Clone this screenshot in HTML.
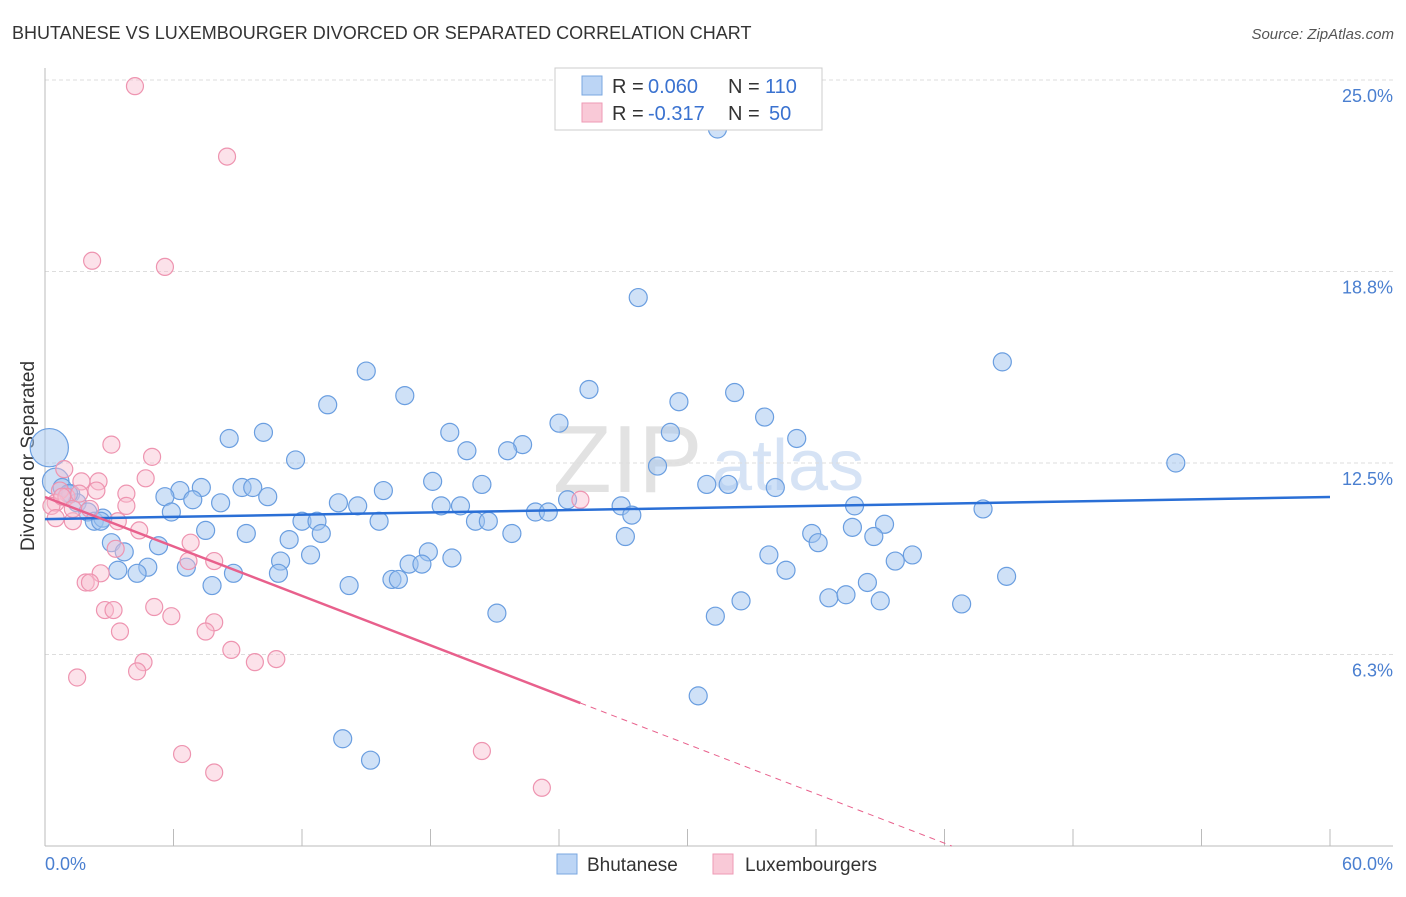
<!DOCTYPE html>
<html><head><meta charset="utf-8"><style>
body{margin:0;background:#fff;font-family:"Liberation Sans",sans-serif;}
svg text{font-family:"Liberation Sans",sans-serif;}
</style></head><body>
<svg id="chart" width="1406" height="892" viewBox="0 0 1406 892" xmlns="http://www.w3.org/2000/svg">
<text x="12" y="39" font-size="18" fill="#333">BHUTANESE VS LUXEMBOURGER DIVORCED OR SEPARATED CORRELATION CHART</text>
<text x="1394" y="39" font-size="15" fill="#555" font-style="italic" text-anchor="end">Source: ZipAtlas.com</text>
<text transform="translate(34,456) rotate(-90)" font-size="19" fill="#333" text-anchor="middle">Divorced or Separated</text>
<g><text x="553" y="492" font-size="96" font-family="Liberation Serif" fill="#e2e2e2">ZIP</text><text x="712" y="490" font-size="72" fill="#d6e3f5">atlas</text></g>
<g id="grid"></g><g id="axes"></g><g id="pts"></g><g id="trend"></g>
<g>
<rect x="555" y="68" width="267" height="62" fill="#fff" stroke="#ccc"/>
<rect x="582" y="76" width="20" height="19" fill="#bcd5f5" stroke="#7aa7e0"/>
<text x="612" y="93" font-size="20" fill="#333">R =</text>
<text x="648" y="93" font-size="20" fill="#3a72d0">0.060</text>
<text x="728" y="93" font-size="20" fill="#333">N =</text>
<text x="765" y="93" font-size="20" fill="#3a72d0">110</text>
<rect x="582" y="103" width="20" height="19" fill="#f9c9d7" stroke="#ee9ab4"/>
<text x="612" y="120" font-size="20" fill="#333">R =</text>
<text x="648" y="120" font-size="20" fill="#3a72d0">-0.317</text>
<text x="728" y="120" font-size="20" fill="#333">N =</text>
<text x="769" y="120" font-size="20" fill="#3a72d0">50</text>
</g>
<g>
<rect x="557" y="854" width="20" height="20" fill="#bcd5f5" stroke="#7aa7e0"/>
<text x="587" y="871" font-size="19" fill="#333">Bhutanese</text>
<rect x="713" y="854" width="20" height="20" fill="#f9c9d7" stroke="#ee9ab4"/>
<text x="745" y="871" font-size="19" fill="#333">Luxembourgers</text>
</g>
</svg>
<script>
const yTicks=[6.25,12.5,18.75,25];
const yTickLabels=["6.3%","12.5%","18.8%","25.0%"];
const xTicks=[0,6,12,18,24,30,36,42,48,54,60];
const blueX=[31.4,27.7,44.7,15.0,25.4,16.8,32.2,13.2,29.6,33.6,24.0,18.9,29.2,10.2,8.6,22.3,35.1,19.7,21.6,11.7,28.6,52.8,18.1,20.4,30.9,31.9,34.1,9.2,9.7,7.3,6.3,5.6,15.8,10.4,6.9,8.2,13.7,14.6,18.5,19.4,24.4,26.9,37.8,5.9,22.9,23.5,27.4,43.8,12.0,12.7,15.6,20.1,20.7,37.7,39.2,7.5,9.4,12.9,21.8,35.8,38.7,27.1,36.1,11.4,3.1,5.3,3.7,11.0,12.4,17.9,19.0,33.8,40.5,39.7,17.0,17.6,6.6,4.8,3.4,4.3,10.9,8.8,34.6,44.9,16.2,16.5,38.4,7.8,14.2,32.5,36.6,37.4,39.0,42.8,21.1,31.3,30.5,13.9,15.2,0.2,0.5,0.8,1.2,1.5,2.0,2.3,2.7,1.1,2.6];
const blueY=[23.4,17.9,15.8,15.5,14.9,14.7,14.8,14.4,14.5,14.0,13.8,13.5,13.5,13.5,13.3,13.1,13.3,12.9,12.9,12.6,12.4,12.5,11.9,11.8,11.8,11.8,11.7,11.7,11.7,11.7,11.6,11.4,11.6,11.4,11.3,11.2,11.2,11.1,11.1,11.1,11.3,11.1,11.1,10.9,10.9,10.9,10.8,11.0,10.6,10.6,10.6,10.6,10.6,10.4,10.5,10.3,10.2,10.2,10.2,10.2,10.1,10.1,9.9,10.0,9.9,9.8,9.6,9.3,9.5,9.6,9.4,9.5,9.5,9.3,9.2,9.2,9.1,9.1,9.0,8.9,8.9,8.9,9.0,8.8,8.7,8.7,8.6,8.5,8.5,8.0,8.1,8.2,8.0,7.9,7.6,7.5,4.9,3.5,2.8,13.0,11.9,11.7,11.5,11.2,10.9,10.6,10.7,11.5,10.6];
const blueWeight=[];blueX.forEach((_,i)=>blueWeight.push(1));blueWeight[99]=5;blueWeight[100]=2.4;
const pinkX=[4.2,8.5,2.2,5.6,3.1,5.0,4.7,1.7,2.5,2.4,3.8,0.7,0.5,0.3,1.0,2.1,3.8,1.3,0.5,4.4,6.8,3.3,2.6,7.9,6.7,1.9,2.1,2.8,3.2,5.1,5.9,7.9,3.5,7.5,4.6,8.7,10.8,9.8,4.3,1.5,6.4,7.9,20.4,23.2,25.0,0.8,1.3,1.6,0.9,3.4];
const pinkY=[24.8,22.5,19.1,18.9,13.1,12.7,12.0,11.9,11.9,11.6,11.5,11.6,11.2,11.1,11.4,11.0,11.1,10.6,10.7,10.3,9.9,9.7,8.9,9.3,9.3,8.6,8.6,7.7,7.7,7.8,7.5,7.3,7.0,7.0,6.0,6.4,6.1,6.0,5.7,5.5,3.0,2.4,3.1,1.9,11.3,11.4,11.0,11.5,12.3,10.6];
const blueTrend=[10.67,11.39];
const pinkTrend=[11.39,-0.269];
const X0=45,X1=1330,Y0=846,PXY=30.64;
const sx=v=>X0+(X1-X0)*v/60, sy=v=>Y0-v*PXY;
const NS="http://www.w3.org/2000/svg";
function mk(t,a,p){const e=document.createElementNS(NS,t);for(const k in a)e.setAttribute(k,a[k]);document.getElementById(p).appendChild(e);return e;}
yTicks.forEach((t,i)=>{
 const l=mk('line',{x1:X0,x2:1393,y1:sy(t),y2:sy(t),stroke:'#ddd','stroke-dasharray':'4,3'},'grid');
 
 
 const tx=mk('text',{x:1393,y:sy(t)+22,'font-size':18,fill:'#4a7fd0','text-anchor':'end'},'grid');
 tx.textContent=yTickLabels[i];
 
 
});
const topGrid=mk('line',{x1:X0,x2:1393,y1:80,y2:80,stroke:'#ddd','stroke-dasharray':'4,3'},'grid');


const ya=mk('line',{x1:X0,x2:X0,y1:68,y2:846,stroke:'#bbb'},'axes');


const xa=mk('line',{x1:X0,x2:1393,y1:846,y2:846,stroke:'#bbb'},'axes');


xTicks.forEach(t=>{const l=mk('line',{x1:sx(t),x2:sx(t),y1:829,y2:846,stroke:'#bbb'},'axes');
 
 });
const xl0=mk('text',{x:45,y:870,'font-size':18,fill:'#4a7fd0'},'axes');xl0.textContent='0.0%';


const xl1=mk('text',{x:1393,y:870,'font-size':18,fill:'#4a7fd0','text-anchor':'end'},'axes');xl1.textContent='60.0%';


blueX.forEach((v,i)=>{const c=mk('circle',{cx:sx(v),cy:sy(blueY[i]),r:9*Math.sqrt(blueWeight[i])*(blueWeight[i]>1?0.95:1),fill:'rgba(160,196,240,0.5)',stroke:'#6a9ee0','stroke-width':1.2},'pts');
 
 });
pinkX.forEach((v,i)=>{const c=mk('circle',{cx:sx(v),cy:sy(pinkY[i]),r:8.5,fill:'rgba(248,190,208,0.45)',stroke:'#ee94b0','stroke-width':1.2},'pts');
 
 });
const bt=mk('line',{x1:sx(0),y1:sy(blueTrend[0]),x2:sx(60),y2:sy(blueTrend[1]),stroke:'#2a6fd6','stroke-width':2.5},'trend');


const pe=25, pz=-pinkTrend[0]/pinkTrend[1];
const pt=mk('line',{x1:sx(0),y1:sy(pinkTrend[0]),x2:sx(pe),y2:sy(pinkTrend[0]+pinkTrend[1]*pe),stroke:'#e8608c','stroke-width':2.5},'trend');


const pd=mk('line',{x1:sx(pe),y1:sy(pinkTrend[0]+pinkTrend[1]*pe),x2:sx(pz),y2:sy(0),stroke:'#e8608c','stroke-width':1,'stroke-dasharray':'6,5'},'trend');


</script>
</body></html>
